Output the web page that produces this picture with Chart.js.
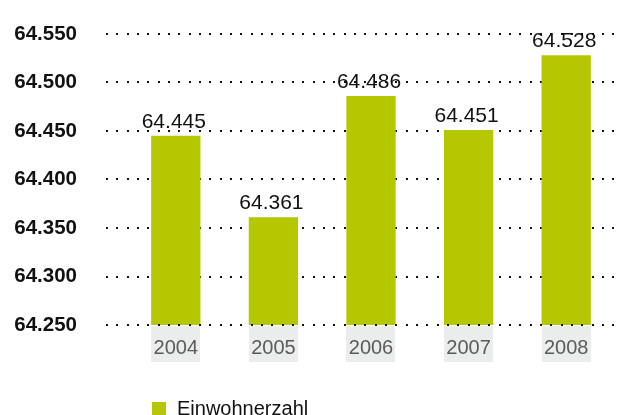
<!DOCTYPE html>
<html>
<head>
<meta charset="utf-8">
<script src="https://cdn.jsdelivr.net/npm/chart.js@4"></script>
<style>
  html, body { margin: 0; padding: 0; background: #fff; overflow: hidden; }
  #wrap { position: relative; width: 618px; height: 415px; }
  #legend { position: absolute; left: 152px; top: 398px; font: 20px "Liberation Sans", Arial, sans-serif; color: #111; line-height: 20px; white-space: nowrap; }
  #legend .box { position: absolute; left: 0; top: 4px; width: 14px; height: 14px; }
  #legend .txt { position: absolute; left: 25px; top: 0; }
</style>
</head>
<body>
<div id="wrap">
  <canvas id="c" width="618" height="415"></canvas>
  <div id="legend"><span class="box"></span><span class="txt"></span></div>
</div>
<script>
const years = ["2004", "2005", "2006", "2007", "2008"];
const seriesName = "Einwohnerzahl";
const einwohnerzahl = [64.445, 64.361, 64.486, 64.451, 64.528];
const yMin = 64.25;
const yMax = 64.55;
const yStep = 0.05;

const barColor = "#b4c700";
const fmt = v => Number(v).toFixed(3);

const dottedGrid = {
  id: "dottedGrid",
  beforeDraw(chart) {
    const ctx = chart.ctx, area = chart.chartArea;
    ctx.save();
    ctx.fillStyle = "#ebedec";
    const meta = chart.getDatasetMeta(0);
    meta.data.forEach(bar => {
      const w = bar.width;
      ctx.fillRect(Math.round(bar.x - w / 2), area.bottom + 1, Math.round(w), 36);
    });
    ctx.restore();
  },
  beforeDatasetsDraw(chart) { drawDots(chart, false); },
  afterDatasetsDraw(chart) {
    drawDots(chart, true);
    const ctx = chart.ctx;
    const meta = chart.getDatasetMeta(0);
    ctx.save();
    ctx.fillStyle = "#111";
    ctx.font = '21px "Liberation Sans", Arial, sans-serif';
    ctx.textAlign = "center";
    ctx.textBaseline = "alphabetic";
    meta.data.forEach((bar, i) => {
      ctx.fillText(fmt(chart.data.datasets[0].data[i]), bar.x - 2, bar.y - 8);
    });
    ctx.restore();
  }
};

function drawDots(chart, bottomOnly) {
  const ctx = chart.ctx, ys = chart.scales.y, area = chart.chartArea;
  ctx.save();
  ctx.fillStyle = "#111";
  ys.ticks.forEach(t => {
    const isBottom = Math.abs(t.value - yMin) < 1e-9;
    if (bottomOnly !== isBottom) return;
    const y = Math.round(ys.getPixelForValue(t.value));
    for (let x = area.left - 21; x <= area.right; x += 10.33) {
      ctx.fillRect(Math.round(x), y - 1, 2, 2);
    }
  });
  ctx.restore();
}

new Chart(document.getElementById("c"), {
  type: "bar",
  data: {
    labels: years,
    datasets: [{
      label: seriesName,
      data: einwohnerzahl,
      backgroundColor: barColor,
      borderWidth: 0,
      barPercentage: 0.505,
      categoryPercentage: 1.0
    }]
  },
  options: {
    responsive: false,
    animation: false,
    layout: { padding: { top: 34, right: 3, bottom: 50, left: 0 } },
    plugins: { legend: { display: false }, tooltip: { enabled: false } },
    scales: {
      x: {
        grid: { display: false, drawTicks: false, tickLength: 0 },
        border: { display: false },
        ticks: {
          color: "#5a5a5a",
          font: { family: '"Liberation Sans", Arial, sans-serif', size: 20 },
          padding: 11
        },
        afterFit(s) { s.height = 40; }
      },
      y: {
        min: yMin,
        max: yMax,
        grid: { display: false, drawTicks: true, tickLength: 50 },
        border: { display: false },
        ticks: {
          stepSize: yStep,
          color: "#111",
          font: { family: '"Liberation Sans", Arial, sans-serif', size: 20.5, weight: "bold" },
          padding: 0,
          callback: v => fmt(v)
        },
        afterFit(s) { s.width = 127; }
      }
    }
  },
  plugins: [dottedGrid]
});

document.querySelector("#legend .box").style.background = barColor;
document.querySelector("#legend .txt").textContent = seriesName;
</script>
</body>
</html>
